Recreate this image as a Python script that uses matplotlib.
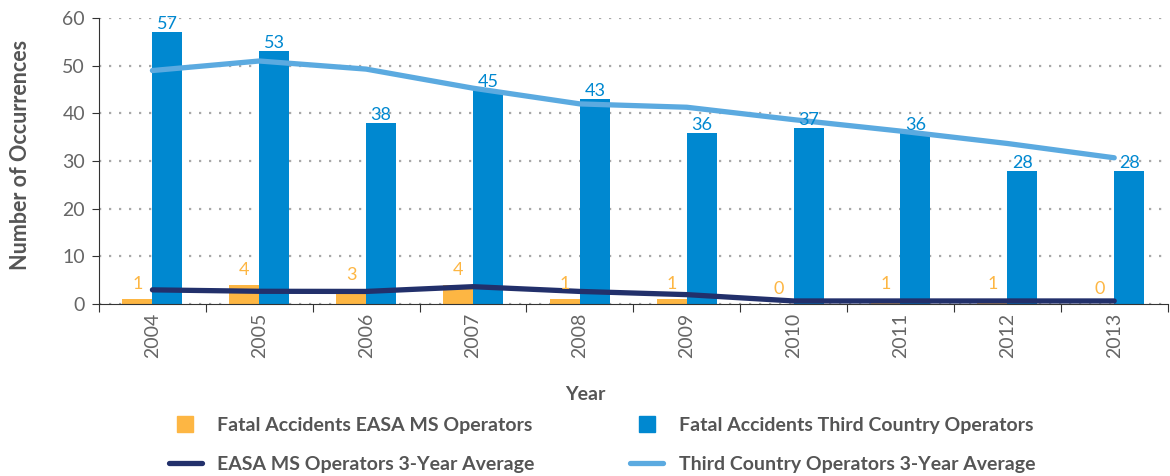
import numpy as np
import matplotlib
matplotlib.use("Agg")
from matplotlib import pyplot as plt
from matplotlib.lines import Line2D

years = ["2004", "2005", "2006", "2007", "2008", "2009", "2010", "2011", "2012", "2013"]
easa_fatal = [1, 4, 3, 4, 1, 1, 0, 1, 1, 0]
third_fatal = [57, 53, 38, 45, 43, 36, 37, 36, 28, 28]
easa_avg = [3.0, 2.7, 2.67, 3.67, 2.67, 2.0, 0.67, 0.67, 0.67, 0.67]
third_avg = [49.0, 51.0, 49.3, 45.3, 42.0, 41.3, 38.7, 36.3, 33.7, 30.7]

ORANGE = "#FDB643"
BLUE = "#0088D0"
LIGHT = "#5BAAE0"
NAVY = "#22306B"
GREY = "#555555"
TICK_GREY = "#666666"

plt.rcParams["font.family"] = ["Lato", "DejaVu Sans"]

fig = plt.figure(figsize=(11.7, 4.76), dpi=100)
ax = fig.add_axes([0.0846, 0.361, 0.9134, 0.601])

x = np.arange(len(years))
w = 0.28
ax.bar(x - w / 2, easa_fatal, w, color=ORANGE, zorder=2)
ax.bar(x + w / 2, third_fatal, w, color=BLUE, zorder=2)
ax.plot(x, easa_avg, color=NAVY, lw=3.8, solid_capstyle="round", zorder=3)
ax.plot(x, third_avg, color=LIGHT, lw=3.8, solid_capstyle="round", zorder=3)

for xi, v in zip(x, easa_fatal):
    ax.annotate(str(v), (xi - w / 2, v), xytext=(0, 5), textcoords="offset points",
                ha="center", va="bottom", color=ORANGE, fontsize=13, zorder=4)
for xi, v in zip(x, third_fatal):
    ax.annotate(str(v), (xi + w / 2, v), xytext=(0, 0), textcoords="offset points",
                ha="center", va="bottom", color=BLUE, fontsize=13, zorder=4)

ax.set_xlim(-0.5, len(years) - 0.5)
ax.set_ylim(0, 60)
ax.set_yticks(range(0, 61, 10))
ax.yaxis.grid(True, linestyle=(0, (1, 3.5)), color="#A8A8A8", lw=1.6)
ax.set_axisbelow(True)

ax.set_xticks(np.arange(-0.5, len(years), 1))
ax.set_xticklabels([])
ax.set_xticks(x, minor=True)
ax.set_xticklabels(years, minor=True, rotation=90, color=TICK_GREY, fontsize=14)
ax.tick_params(axis="x", which="minor", length=0, pad=6)
ax.tick_params(axis="x", which="major", length=6, color="#333333")
ax.tick_params(axis="y", labelcolor=TICK_GREY, labelsize=14, length=5, color="#333333", pad=5)

for s in ["top", "right"]:
    ax.spines[s].set_visible(False)
for s in ["left", "bottom"]:
    ax.spines[s].set_color("#333333")

ax.set_ylabel("Number of Occurrences", fontsize=15.5, fontweight="bold", color=GREY)
ax.yaxis.set_label_coords(-0.064, 0.52)
fig.text(0.5, 1 - 395 / 476, "Year", ha="center", va="center", fontsize=14,
         fontweight="bold", color=GREY)

handles = [
    Line2D([], [], ls="none", marker="s", markersize=11, color=ORANGE),
    Line2D([], [], color=NAVY, lw=3.8, solid_capstyle="round"),
    Line2D([], [], ls="none", marker="s", markersize=11, color=BLUE),
    Line2D([], [], color=LIGHT, lw=3.8, solid_capstyle="round"),
]
labels = [
    "Fatal Accidents EASA MS Operators",
    "EASA MS Operators 3-Year Average",
    "Fatal Accidents Third Country Operators",
    "Third Country Operators 3-Year Average",
]
leg = fig.legend(handles, labels, ncol=2, loc="center", bbox_to_anchor=(602 / 1170, 1 - 445 / 476),
                 frameon=False, handlelength=1.7, handletextpad=0.8, columnspacing=4.9,
                 labelspacing=1.15, prop={"size": 14, "weight": "bold"})
for t in leg.get_texts():
    t.set_color(GREY)

fig.savefig("out.png", dpi=100)
